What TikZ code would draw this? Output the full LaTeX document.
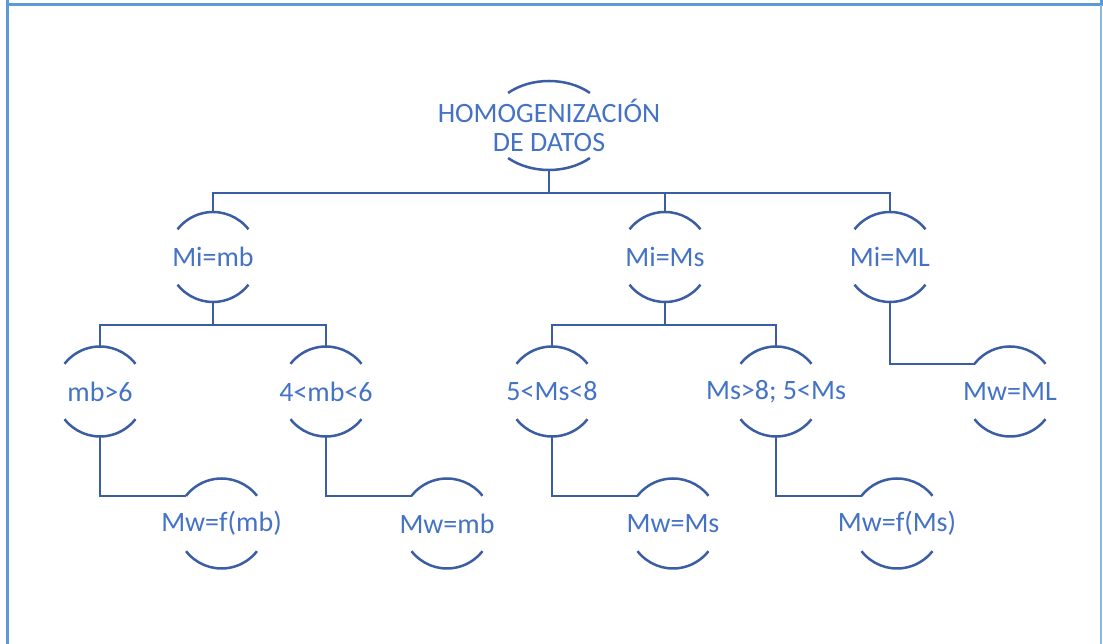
\documentclass[tikz,border=0pt]{standalone}
\usepackage{fontspec}
\setmainfont{Carlito}
\usetikzlibrary{shapes.geometric}
\definecolor{linkblue}{RGB}{59,93,163}
\definecolor{textblue}{RGB}{68,114,196}
\definecolor{frameblue}{RGB}{91,155,213}

\begin{document}
\begin{tikzpicture}[x=1pt,y=1pt,
  bubble/.style={circle,minimum size=90pt,inner sep=0pt,outer sep=0pt},
  lbl/.style={text=textblue,font=\fontsize{28}{29}\selectfont,inner sep=0pt},
  link/.style={draw=linkblue,line width=2.5pt}]
  \useasboundingbox (0,0) rectangle (1103,644);
  % The frame round the chart.
  \draw[frameblue,line width=3pt] (7,644) -- (7,639) -- (1101,639) -- (1101,644);
  \draw[frameblue,line width=3pt] (7,0) -- (7,639);
  \draw[frameblue!70,line width=2pt] (1101,0) -- (1101,639);
  % The root.
  \node[ellipse,minimum width=120pt,minimum height=89pt,inner sep=0pt,outer sep=0pt,
    label={[lbl,align=center]center:{HOMOGENIZACIÓN\\DE DATOS}}] (root) at (549,518.5) {};
  \draw[link] ([shift={(47:60pt and 44.5pt)}]root.center) arc[start angle=47,end angle=133,x radius=60pt,y radius=44.5pt];
  \draw[link] ([shift={(227:60pt and 44.5pt)}]root.center) arc[start angle=227,end angle=313,x radius=60pt,y radius=44.5pt];
  % The other items.
  \foreach \name/\x/\y/\txt in {mimb/213/387/{Mi=mb}, mims/665/387/{Mi=Ms}, miml/890/387/{Mi=ML},
      mbgt/100/252.5/{mb>6}, mbmid/326/252.5/{4<mb<6}, msmid/552/252.5/{5<Ms<8},
      msgt/776/252.5/{Ms>8; 5<Ms}, mwml/1010/252.5/{Mw=ML},
      mwfmb/221.5/120.5/{Mw=f(mb)}, mwmb/447/120.5/{Mw=mb}, mwms/673/120.5/{Mw=Ms},
      mwfms/897/120.5/{Mw=f(Ms)}} {
    \node[bubble,label={[lbl]center:{\txt}}] (\name) at (\x,\y) {};
    \draw[link] (\name.38) arc[start angle=38,end angle=142,radius=45pt];
    \draw[link] (\name.218) arc[start angle=218,end angle=322,radius=45pt];
  }
  % The links.
  \foreach \n in {mimb,mims,miml} \draw[link] (root.south) -- ++(0,-23) -| (\n.north);
  \foreach \n in {mbgt,mbmid} \draw[link] (mimb.south) -- ++(0,-23) -| (\n.north);
  \foreach \n in {msmid,msgt} \draw[link] (mims.south) -- ++(0,-23) -| (\n.north);
  \foreach \a/\b in {mbgt/mwfmb,mbmid/mwmb,msmid/mwms,msgt/mwfms,miml/mwml}
    \draw[link] (\a.south) |- (\b.142);
\end{tikzpicture}
\end{document}
